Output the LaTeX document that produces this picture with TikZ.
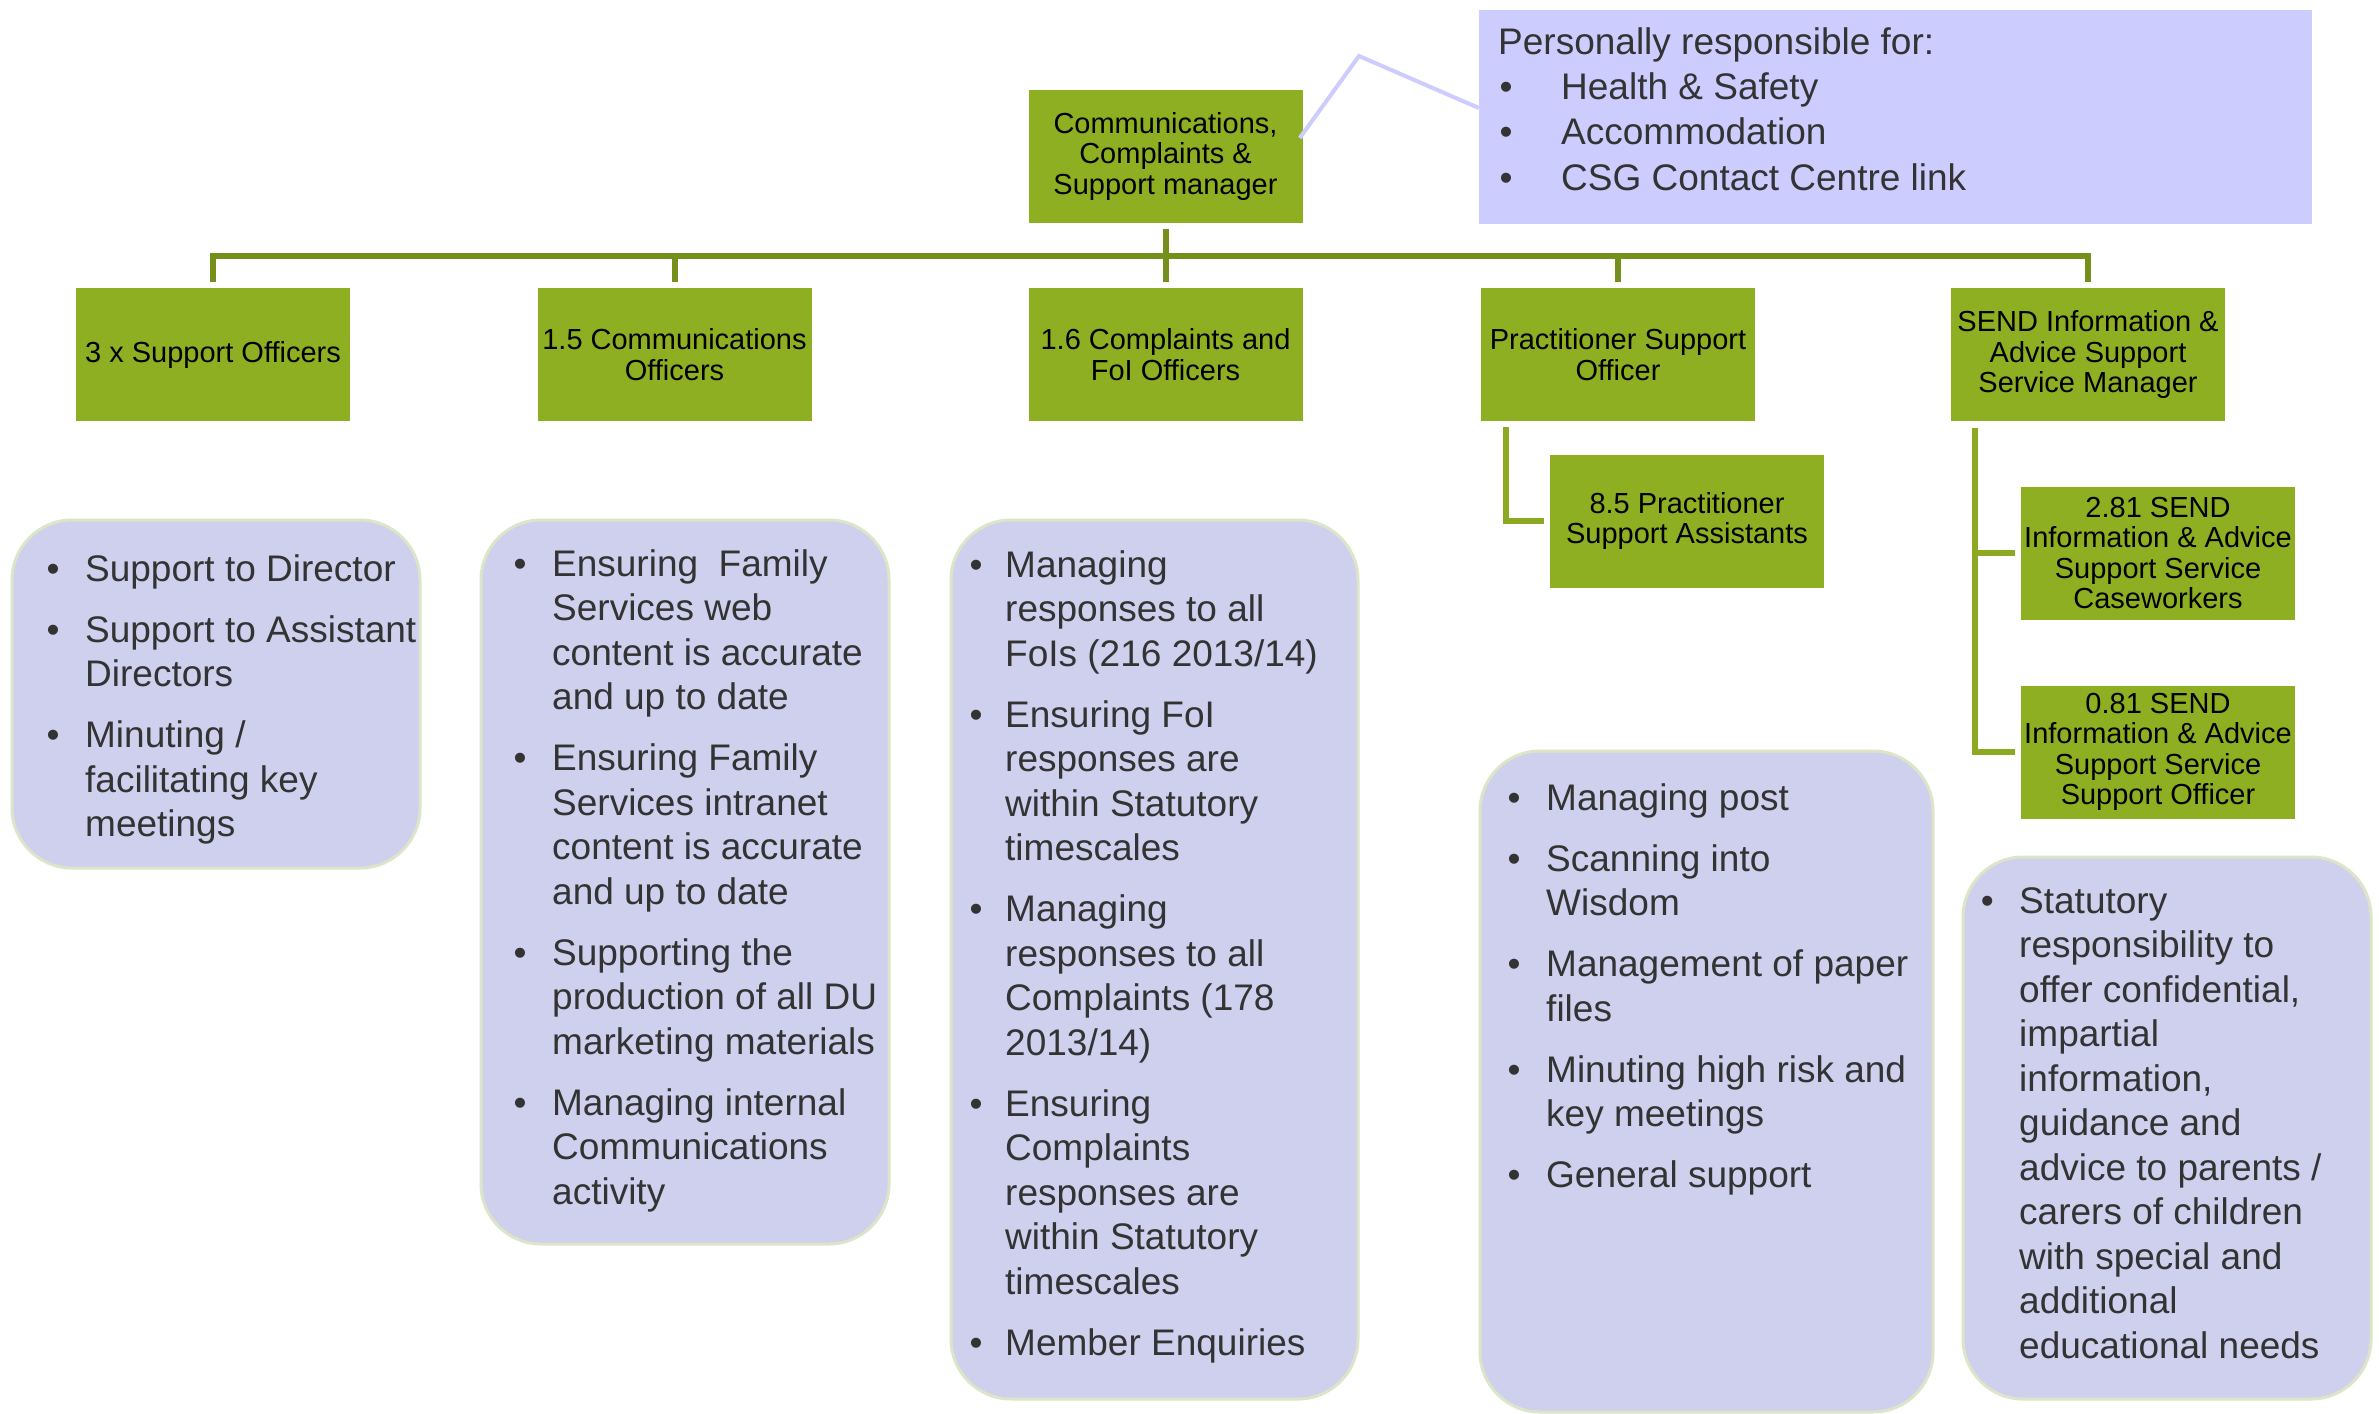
\documentclass[tikz,border=0pt]{standalone}
\usepackage{fontspec}
\setmainfont{Liberation Sans}
\usetikzlibrary{calc}

\definecolor{leaf}{HTML}{8FAF22}
\definecolor{trunk}{HTML}{74901B}
\definecolor{twig}{HTML}{8BAA22}
\definecolor{lilac}{HTML}{CFCFEE}
\definecolor{lilacrim}{HTML}{DCE5C8}
\definecolor{note}{HTML}{CCCCFF}
\definecolor{ink}{HTML}{333333}

% bullet hung to the left of the current text position
\newcommand{\bu}[1][32pt]{\llap{\makebox[0pt][c]{\textbullet}\hspace{#1}}}
\newcommand{\gap}{\\[16.5pt]}

\tikzset{
  role/.style={fill=leaf, minimum width=274pt, minimum height=133pt,
    inner sep=2pt, align=center, text=black,
    font=\fontsize{29}{30.5}\selectfont},
  trunkline/.style={draw=trunk, line width=6pt},
  twigline/.style={draw=twig, line width=5.5pt},
  panel/.style={fill=lilac, draw=lilacrim, line width=3pt, rounded corners=60pt},
  duties/.style={anchor=base west, inner sep=0pt, text=ink,
    font=\fontsize{37}{44.5}\selectfont},
  noteline/.style={draw=note, line width=4pt},
}

\begin{document}
\begin{tikzpicture}[x=1pt,y=-1pt]
\useasboundingbox (0,0) rectangle (2379,1413);
\fill[white] (0,0) rectangle (2379,1413);

% ---------- manager and responsibilities note ----------
\node[role] (mgr) at (1165.5,156.5) {Communications,\\Complaints \&\\Support manager};
\node[fill=note, minimum width=833pt, minimum height=213pt, inner sep=0pt] (resp) at (1895.5,117) {};
\node[anchor=base west, inner sep=0pt, text=ink, font=\fontsize{37}{45}\selectfont] (resptext) at (1498,55)
  {\begin{tabular}[t]{@{}l@{}}
   Personally responsible for:\\
   \hspace{63pt}\bu[55pt]Health \& Safety\\
   \hspace{63pt}\bu[55pt]Accommodation\\
   \hspace{63pt}\bu[55pt]CSG Contact Centre link
   \end{tabular}};
\coordinate (kink) at (1359,56);
\draw[noteline] ([xshift=-3pt,yshift=18.5pt]mgr.east) -- (kink) -- ([yshift=9pt]resp.west);

% ---------- second tier ----------
\node[role] (b1) at (213,354.5) {3 x Support Officers};
\node[role] (b2) at (674.5,354.5) {1.5 Communications\\Officers};
\node[role] (b3) at (1165.5,354.5) {1.6 Complaints and\\FoI Officers};
\node[role] (b4) at (1618,354.5) {Practitioner Support\\Officer};
\node[role] (b5) at (2088,354.5) {SEND Information \&\\Advice Support\\Service Manager};

\coordinate (bar) at (0,255.5);
\draw[trunkline, shorten <=6pt] (mgr.south) -- (mgr.south |- bar);
\draw[trunkline, shorten <=6pt, shorten >=6pt] (b1.north) -- (b1.north |- bar) -- (b5.north |- bar) -- (b5.north);
\foreach \b in {b2,b3,b4}
  \draw[trunkline, shorten >=6pt] (\b.north |- bar) -- (\b.north);

% ---------- third tier ----------
\node[role] (p85) at (1687,521) {8.5 Practitioner\\Support Assistants};
\node[role] (s281) at (2158,553) {2.81 SEND\\Information \& Advice\\Support Service\\Caseworkers};
\node[role] (s081) at (2158,752) {0.81 SEND\\Information \& Advice\\Support Service\\Support Officer};

\coordinate (pv) at ([xshift=-112pt,yshift=-6pt]b4.south);
\draw[twigline, shorten >=6pt] (pv) |- (p85.west);
\coordinate (sv) at ([xshift=-113pt,yshift=-7pt]b5.south);
\draw[twigline, shorten >=6pt] (sv) |- (s081.west);
\draw[twigline, shorten >=6pt] (sv |- s281.west) -- (s281.west);

% ---------- duty panels ----------
\node[panel, minimum width=408pt, minimum height=348pt] (pA) at (216,694) {};
\node[panel, minimum width=408pt, minimum height=724pt] (pB) at (685,882) {};
\node[panel, minimum width=407pt, minimum height=879pt] (pC) at (1154.5,959.5) {};
\node[panel, minimum width=453pt, minimum height=661pt] (pD) at (1706.5,1081.5) {};
\node[panel, minimum width=408pt, minimum height=542pt] (pE) at (2167,1128) {};

\node[duties] (tA) at (85,581)
  {\begin{tabular}[t]{@{}l@{}}
   \bu Support to Director\gap
   \bu Support to Assistant\\
   Directors\gap
   \bu Minuting /\\
   facilitating key\\
   meetings
   \end{tabular}};

\node[duties] (tB) at (552,576)
  {\begin{tabular}[t]{@{}l@{}}
   \bu Ensuring\ \ Family\\
   Services web\\
   content is accurate\\
   and up to date\gap
   \bu Ensuring Family\\
   Services intranet\\
   content is accurate\\
   and up to date\gap
   \bu Supporting the\\
   production of all DU\\
   marketing materials\gap
   \bu Managing internal\\
   Communications\\
   activity
   \end{tabular}};

\node[duties] (tC) at (1005,577)
  {\begin{tabular}[t]{@{}l@{}}
   \bu[29pt]Managing\\
   responses to all\\
   FoIs (216 2013/14)\gap
   \bu[29pt]Ensuring FoI\\
   responses are\\
   within Statutory\\
   timescales\gap
   \bu[29pt]Managing\\
   responses to all\\
   Complaints (178\\
   2013/14)\gap
   \bu[29pt]Ensuring\\
   Complaints\\
   responses are\\
   within Statutory\\
   timescales\gap
   \bu[29pt]Member Enquiries
   \end{tabular}};

\node[duties] (tD) at (1546,810)
  {\begin{tabular}[t]{@{}l@{}}
   \bu Managing post\gap
   \bu Scanning into\\
   Wisdom\gap
   \bu Management of paper\\
   files\gap
   \bu Minuting high risk and\\
   key meetings\gap
   \bu General support
   \end{tabular}};

\node[duties] (tE) at (2019,913)
  {\begin{tabular}[t]{@{}l@{}}
   \bu Statutory\\
   responsibility to\\
   offer confidential,\\
   impartial\\
   information,\\
   guidance and\\
   advice to parents /\\
   carers of children\\
   with special and\\
   additional\\
   educational needs
   \end{tabular}};
\end{tikzpicture}
\end{document}
